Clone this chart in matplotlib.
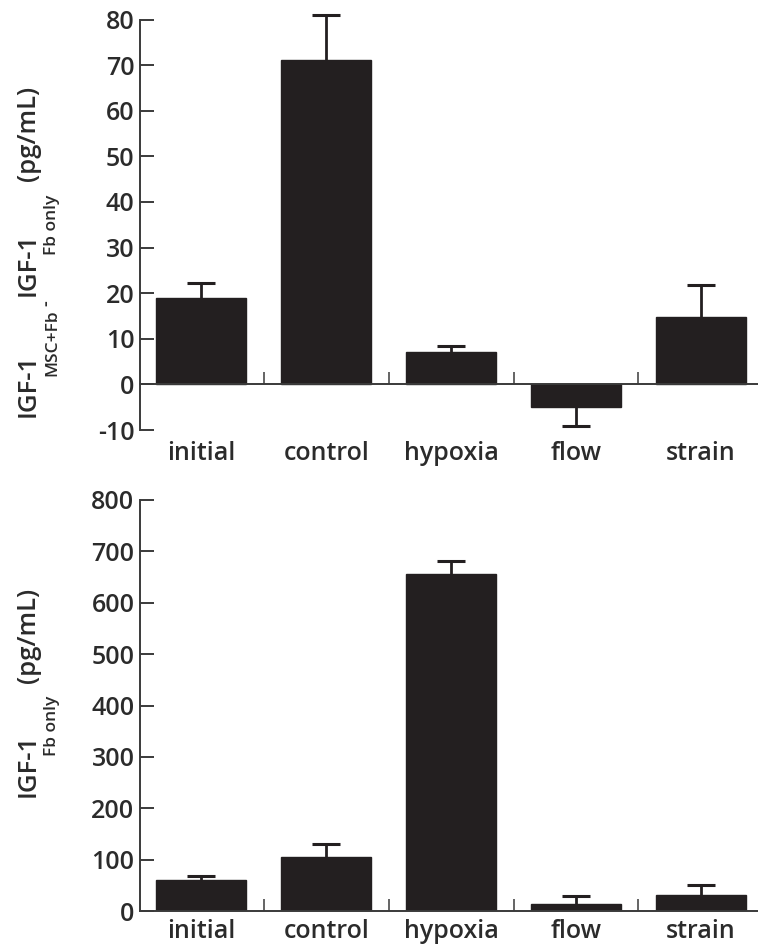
import matplotlib
matplotlib.use("Agg")
import matplotlib.pyplot as plt
import numpy as np

# ---------- Data ----------
categories = ["initial", "control", "hypoxia", "flow", "strain"]

# top panel: IGF-1 (MSC+Fb) minus IGF-1 (Fb only)
diff_means = np.array([19.0, 71.1, 7.1, -4.9, 14.7])
diff_err = np.array([3.2, 10.0, 1.3, 4.2, 7.0])

# bottom panel: IGF-1 (Fb only)
fb_means = np.array([60, 106, 655, 13, 31])
fb_err = np.array([8, 24, 26, 16, 20])

BAR_COLOR = "#231f20"
AXIS_COLOR = "#3a3a3a"
TEXT_COLOR = "#2b2b2b"
W, H = 758, 948

plt.rcParams["font.family"] = ["Open Sans", "DejaVu Sans"]
plt.rcParams["axes.unicode_minus"] = False


def draw_panel(ax, means, errs, ylim, yticks, label_offset):
    x = np.arange(len(categories))
    ax.bar(x, means, width=0.72, color=BAR_COLOR, edgecolor=BAR_COLOR, zorder=2)

    # error bars only on the side the bar points to (may poke above the axis top)
    ends = means + np.sign(means) * errs
    ax.vlines(x, means, ends, color=BAR_COLOR, linewidth=2.0, zorder=3, clip_on=False)
    ax.plot(x, ends, linestyle="none", marker="_", markersize=20,
            markeredgewidth=2.2, color=BAR_COLOR, zorder=3, clip_on=False)

    ax.set_xlim(-0.49, 4.457)
    ax.set_ylim(*ylim)
    ax.set_yticks(yticks)

    # spines: left axis + baseline at zero
    for side in ["top", "right"]:
        ax.spines[side].set_visible(False)
    ax.spines["bottom"].set_position(("data", 0))
    for side in ["left", "bottom"]:
        ax.spines[side].set_color(AXIS_COLOR)
        ax.spines[side].set_linewidth(1.4)

    # small separator ticks between the bars, pointing up
    ax.set_xticks(x[:-1] + 0.5)
    ax.tick_params(axis="x", direction="in", length=8.5, width=1.1,
                   color=AXIS_COLOR, labelbottom=False)
    ax.tick_params(axis="y", direction="in", length=10, width=1.4,
                   color=AXIS_COLOR, labelsize=18, labelcolor=TEXT_COLOR, pad=4)
    for lab in ax.get_yticklabels():
        lab.set_fontweight("semibold")

    for i, name in enumerate(categories):
        ax.annotate(name, xy=(i, 0), xycoords=("data", "axes fraction"),
                    xytext=(0, label_offset), textcoords="offset points",
                    ha="center", va="center", fontsize=18, fontweight="semibold",
                    color=TEXT_COLOR)


def stacked_label(fig, pieces, y_start):
    """rotated y label built from pieces: (text, size, baseline x px, gap px)"""
    renderer = fig.canvas.get_renderer()
    y = H - y_start
    for text, size, xb, gap in pieces:
        y += gap
        t = fig.text(xb / W, y / H, text, rotation=90, rotation_mode="anchor",
                     ha="left", va="baseline", fontsize=size,
                     fontweight="semibold", color=TEXT_COLOR)
        y = t.get_window_extent(renderer).y1


fig = plt.figure(figsize=(7.58, 9.48), dpi=100)

ax1 = fig.add_axes([0.1847, 0.5464, 0.8153, 0.4330])
draw_panel(ax1, diff_means, diff_err, (-10, 80), range(-10, 81, 10), -17)

ax2 = fig.add_axes([0.1847, 0.0390, 0.8153, 0.4336])
draw_panel(ax2, fb_means, fb_err, (0, 800), range(0, 801, 100), -15)

MAIN, SUB = 18.5, 12.5
stacked_label(fig, [
    ("IGF-1", MAIN, 35, 0),
    ("MSC+Fb", SUB, 56, -22),
    ("-", 13, 51, 3),
    ("IGF-1", MAIN, 35, 4),
    ("Fb only", SUB, 56, -22),
    ("(pg/mL)", MAIN, 35, 14),
], 417)

stacked_label(fig, [
    ("IGF-1", MAIN, 35, 0),
    ("Fb only", SUB, 56, -22),
    ("(pg/mL)", MAIN, 35, 12),
], 797)

fig.savefig("out.png", dpi=100)
